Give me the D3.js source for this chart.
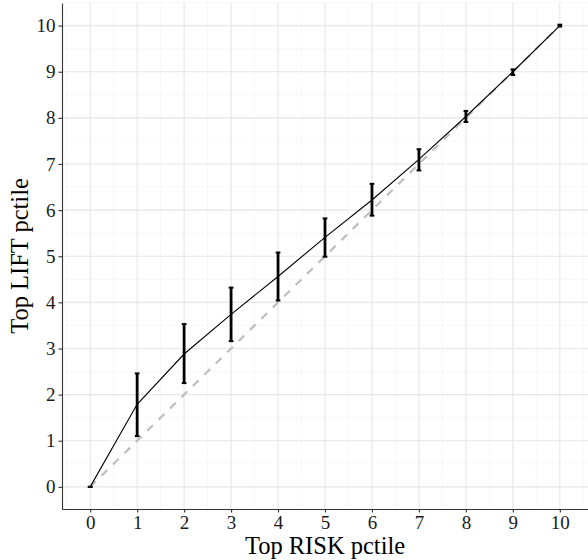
<!DOCTYPE html>
<html>
<head>
<meta charset="utf-8">
<script src="https://cdn.jsdelivr.net/npm/d3@7"></script>
<style>
  body { margin: 0; background: #fff; }
  text { font-family: "Liberation Serif", "Times New Roman", serif; }
</style>
</head>
<body>
<svg id="chart"></svg>
<script>
// risk percentile (x) vs lift percentile (y), with error bars
const riskPctile = [0, 1, 2, 3, 4, 5, 6, 7, 8, 9, 10];
const liftMean   = [0, 1.79, 2.88, 3.74, 4.56, 5.41, 6.22, 7.10, 8.03, 9.00, 10.0];
const liftLow    = [0, 1.10, 2.25, 3.16, 4.04, 4.99, 5.88, 6.86, 7.91, 8.93, 9.98];
const liftHigh   = [0, 2.46, 3.53, 4.32, 5.08, 5.82, 6.57, 7.32, 8.15, 9.05, 10.02];
const tickValues = [0, 1, 2, 3, 4, 5, 6, 7, 8, 9, 10];

const data = riskPctile.map((r, i) => ({
    risk: r, mean: liftMean[i], low: liftLow[i], high: liftHigh[i]
}));

const W = 588, H = 560;
const margin = { top: 3, right: 0, bottom: 51, left: 62 };
const width = W - margin.left - margin.right,
      height = H - margin.top - margin.bottom;

const svg = d3.select("#chart")
    .attr("width", W)
    .attr("height", H);

const g = svg.append("g")
    .attr("transform", `translate(${margin.left},${margin.top})`);

const x = d3.scaleLinear().domain([-0.6, 10.6]).range([0, width]);
const y = d3.scaleLinear().domain([-0.48, 10.49]).range([height, 0]);

// minor grid
const minor = d3.range(-0.5, 11, 1);
g.append("g").selectAll("line").data(minor).enter().append("line")
    .attr("x1", d => x(d)).attr("x2", d => x(d))
    .attr("y1", 0).attr("y2", height)
    .attr("stroke", "#f4f4f4").attr("stroke-width", 0.6);
g.append("g").selectAll("line").data(minor).enter().append("line")
    .attr("y1", d => y(d)).attr("y2", d => y(d))
    .attr("x1", 0).attr("x2", width)
    .attr("stroke", "#f4f4f4").attr("stroke-width", 0.6);

// major grid
g.append("g").selectAll("line").data(tickValues).enter().append("line")
    .attr("x1", d => x(d)).attr("x2", d => x(d))
    .attr("y1", 0).attr("y2", height)
    .attr("stroke", "#e6e6e6").attr("stroke-width", 1.1);
g.append("g").selectAll("line").data(tickValues).enter().append("line")
    .attr("y1", d => y(d)).attr("y2", d => y(d))
    .attr("x1", 0).attr("x2", width)
    .attr("stroke", "#e6e6e6").attr("stroke-width", 1.1);

// reference diagonal
g.append("line")
    .attr("x1", x(0)).attr("y1", y(0))
    .attr("x2", x(10)).attr("y2", y(10))
    .attr("stroke", "#bebebe")
    .attr("stroke-width", 2.2)
    .attr("stroke-dasharray", "8,8");

// mean line
g.append("path")
    .datum(data)
    .attr("fill", "none")
    .attr("stroke", "#000")
    .attr("stroke-width", 1.1)
    .attr("d", d3.line().x(d => x(d.risk)).y(d => y(d.mean)));

// error bars
const capHalf = 0.05;
const eb = g.append("g").selectAll("g").data(data).enter().append("g");
eb.append("line")
    .attr("x1", d => x(d.risk)).attr("x2", d => x(d.risk))
    .attr("y1", d => y(d.low)).attr("y2", d => y(d.high))
    .attr("stroke", "#000").attr("stroke-width", 2.8);
eb.append("line")
    .attr("x1", d => x(d.risk - capHalf)).attr("x2", d => x(d.risk + capHalf))
    .attr("y1", d => y(d.low)).attr("y2", d => y(d.low))
    .attr("stroke", "#000").attr("stroke-width", 2);
eb.append("line")
    .attr("x1", d => x(d.risk - capHalf)).attr("x2", d => x(d.risk + capHalf))
    .attr("y1", d => y(d.high)).attr("y2", d => y(d.high))
    .attr("stroke", "#000").attr("stroke-width", 2);

// axes
const xAxis = g.append("g")
    .attr("transform", `translate(0,${height})`)
    .call(d3.axisBottom(x).tickValues(tickValues).tickSize(3.5).tickPadding(3).tickSizeOuter(0));
const yAxis = g.append("g")
    .call(d3.axisLeft(y).tickValues(tickValues).tickSize(3.5).tickPadding(3).tickSizeOuter(0));

[xAxis, yAxis].forEach(a => {
    a.attr("font-family", "Liberation Serif, serif").attr("font-size", 19);
    a.select(".domain").attr("stroke", "#333").attr("stroke-width", 1.1);
    a.selectAll(".tick line").attr("stroke", "#333").attr("stroke-width", 1.1);
    a.selectAll(".tick text")
        .attr("fill", "#1a1a1a")
        .style("font-family", "Liberation Serif, serif")
        .style("font-size", "19px");
});

// axis titles
svg.append("text")
    .attr("x", margin.left + width / 2)
    .attr("y", 554)
    .attr("text-anchor", "middle")
    .style("font-size", "24.5px")
    .text("Top RISK pctile");

svg.append("text")
    .attr("transform", `translate(28,${margin.top + height / 2}) rotate(-90)`)
    .attr("text-anchor", "middle")
    .style("font-size", "24.5px")
    .text("Top LIFT pctile");
</script>
</body>
</html>
